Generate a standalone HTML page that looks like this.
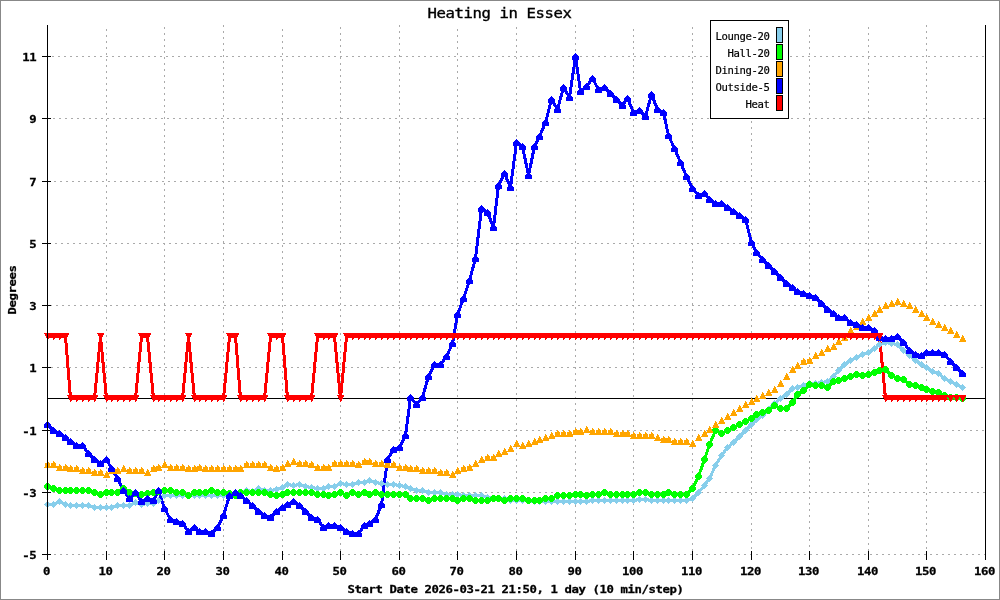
<!DOCTYPE html>
<html lang="en"><head><meta charset="utf-8"><title>Heating in Essex</title>
<style>
html,body{margin:0;padding:0;background:#fff;}
body{width:1000px;height:600px;overflow:hidden;position:relative;}
svg{position:absolute;left:0;top:0;display:block;}
.mb{font-family:"DejaVu Sans Mono","Liberation Mono",monospace;font-weight:bold;font-size:11.5px;letter-spacing:-0.38px;fill:#000;stroke:#000;stroke-width:0.3px;}
.ti{font-family:"DejaVu Sans Mono","Liberation Mono",monospace;font-weight:normal;font-size:14px;letter-spacing:-0.39px;fill:#000;stroke:#000;stroke-width:0.35px;}
.lg{font-family:"DejaVu Sans Mono","Liberation Mono",monospace;font-size:10.6px;letter-spacing:-0.38px;fill:#000;stroke:#000;stroke-width:0.2px;}
</style></head><body>
<svg width="1000" height="600" viewBox="0 0 1000 600">
<rect x="0" y="0" width="1000" height="600" fill="#fff"/>
<rect x="0.5" y="0.5" width="999" height="599" fill="none" stroke="#888888" stroke-width="1" shape-rendering="crispEdges"/>
<text class="ti" transform="translate(499.5,18.2) scale(1.12,0.95)" text-anchor="middle">Heating in Essex</text>
<g stroke="#aaaaaa" stroke-width="1" shape-rendering="crispEdges" fill="none">
<line x1="47" y1="554.5" x2="985" y2="554.5" stroke-dasharray="2 4" stroke-dashoffset="5"/>
<line x1="47" y1="492.5" x2="985" y2="492.5" stroke-dasharray="2 4" stroke-dashoffset="0"/>
<line x1="47" y1="430.5" x2="985" y2="430.5" stroke-dasharray="2 4" stroke-dashoffset="1"/>
<line x1="47" y1="367.5" x2="985" y2="367.5" stroke-dasharray="2 4" stroke-dashoffset="2"/>
<line x1="47" y1="305.5" x2="985" y2="305.5" stroke-dasharray="2 4" stroke-dashoffset="3"/>
<line x1="47" y1="243.5" x2="985" y2="243.5" stroke-dasharray="2 4" stroke-dashoffset="4"/>
<line x1="47" y1="181.5" x2="985" y2="181.5" stroke-dasharray="2 4" stroke-dashoffset="5"/>
<line x1="47" y1="118.5" x2="985" y2="118.5" stroke-dasharray="2 4" stroke-dashoffset="0"/>
<line x1="47" y1="56.5" x2="985" y2="56.5" stroke-dasharray="2 4" stroke-dashoffset="1"/>
<line x1="106.5" y1="25" x2="106.5" y2="555" stroke-dasharray="2 4" stroke-dashoffset="2"/>
<line x1="164.5" y1="25" x2="164.5" y2="555" stroke-dasharray="2 4" stroke-dashoffset="4"/>
<line x1="223.5" y1="25" x2="223.5" y2="555" stroke-dasharray="2 4" stroke-dashoffset="0"/>
<line x1="282.5" y1="25" x2="282.5" y2="555" stroke-dasharray="2 4" stroke-dashoffset="2"/>
<line x1="340.5" y1="25" x2="340.5" y2="555" stroke-dasharray="2 4" stroke-dashoffset="4"/>
<line x1="399.5" y1="25" x2="399.5" y2="555" stroke-dasharray="2 4" stroke-dashoffset="0"/>
<line x1="457.5" y1="25" x2="457.5" y2="555" stroke-dasharray="2 4" stroke-dashoffset="2"/>
<line x1="516.5" y1="25" x2="516.5" y2="555" stroke-dasharray="2 4" stroke-dashoffset="4"/>
<line x1="575.5" y1="25" x2="575.5" y2="555" stroke-dasharray="2 4" stroke-dashoffset="0"/>
<line x1="633.5" y1="25" x2="633.5" y2="555" stroke-dasharray="2 4" stroke-dashoffset="2"/>
<line x1="692.5" y1="25" x2="692.5" y2="555" stroke-dasharray="2 4" stroke-dashoffset="4"/>
<line x1="751.5" y1="25" x2="751.5" y2="555" stroke-dasharray="2 4" stroke-dashoffset="0"/>
<line x1="809.5" y1="25" x2="809.5" y2="555" stroke-dasharray="2 4" stroke-dashoffset="2"/>
<line x1="868.5" y1="25" x2="868.5" y2="555" stroke-dasharray="2 4" stroke-dashoffset="4"/>
<line x1="926.5" y1="25" x2="926.5" y2="555" stroke-dasharray="2 4" stroke-dashoffset="0"/>
</g>
<g stroke="#000" stroke-width="1" shape-rendering="crispEdges" fill="none">
<line x1="47" y1="398.5" x2="986" y2="398.5"/>
<line x1="42" y1="554.5" x2="51" y2="554.5"/>
<line x1="42" y1="492.5" x2="51" y2="492.5"/>
<line x1="42" y1="430.5" x2="51" y2="430.5"/>
<line x1="42" y1="367.5" x2="51" y2="367.5"/>
<line x1="42" y1="305.5" x2="51" y2="305.5"/>
<line x1="42" y1="243.5" x2="51" y2="243.5"/>
<line x1="42" y1="181.5" x2="51" y2="181.5"/>
<line x1="42" y1="118.5" x2="51" y2="118.5"/>
<line x1="42" y1="56.5" x2="51" y2="56.5"/>
<line x1="47.5" y1="551" x2="47.5" y2="560"/>
<line x1="106.5" y1="551" x2="106.5" y2="560"/>
<line x1="164.5" y1="551" x2="164.5" y2="560"/>
<line x1="223.5" y1="551" x2="223.5" y2="560"/>
<line x1="282.5" y1="551" x2="282.5" y2="560"/>
<line x1="340.5" y1="551" x2="340.5" y2="560"/>
<line x1="399.5" y1="551" x2="399.5" y2="560"/>
<line x1="457.5" y1="551" x2="457.5" y2="560"/>
<line x1="516.5" y1="551" x2="516.5" y2="560"/>
<line x1="575.5" y1="551" x2="575.5" y2="560"/>
<line x1="633.5" y1="551" x2="633.5" y2="560"/>
<line x1="692.5" y1="551" x2="692.5" y2="560"/>
<line x1="751.5" y1="551" x2="751.5" y2="560"/>
<line x1="809.5" y1="551" x2="809.5" y2="560"/>
<line x1="868.5" y1="551" x2="868.5" y2="560"/>
<line x1="926.5" y1="551" x2="926.5" y2="560"/>
<line x1="985.5" y1="551" x2="985.5" y2="560"/>
</g>
<g class="mb">
<text transform="translate(36.3,559.1) scale(1.07,0.9)" text-anchor="end">-5</text>
<text transform="translate(36.3,497.1) scale(1.07,0.9)" text-anchor="end">-3</text>
<text transform="translate(36.3,435.1) scale(1.07,0.9)" text-anchor="end">-1</text>
<text transform="translate(36.3,372.1) scale(1.07,0.9)" text-anchor="end">1</text>
<text transform="translate(36.3,310.1) scale(1.07,0.9)" text-anchor="end">3</text>
<text transform="translate(36.3,248.1) scale(1.07,0.9)" text-anchor="end">5</text>
<text transform="translate(36.3,186.1) scale(1.07,0.9)" text-anchor="end">7</text>
<text transform="translate(36.3,123.1) scale(1.07,0.9)" text-anchor="end">9</text>
<text transform="translate(36.3,61.1) scale(1.07,0.9)" text-anchor="end">11</text>
<text transform="translate(46.5,575.2) scale(1.07,0.9)" text-anchor="middle">0</text>
<text transform="translate(105.5,575.2) scale(1.07,0.9)" text-anchor="middle">10</text>
<text transform="translate(163.5,575.2) scale(1.07,0.9)" text-anchor="middle">20</text>
<text transform="translate(222.5,575.2) scale(1.07,0.9)" text-anchor="middle">30</text>
<text transform="translate(281.5,575.2) scale(1.07,0.9)" text-anchor="middle">40</text>
<text transform="translate(339.5,575.2) scale(1.07,0.9)" text-anchor="middle">50</text>
<text transform="translate(398.5,575.2) scale(1.07,0.9)" text-anchor="middle">60</text>
<text transform="translate(456.5,575.2) scale(1.07,0.9)" text-anchor="middle">70</text>
<text transform="translate(515.5,575.2) scale(1.07,0.9)" text-anchor="middle">80</text>
<text transform="translate(574.5,575.2) scale(1.07,0.9)" text-anchor="middle">90</text>
<text transform="translate(632.5,575.2) scale(1.07,0.9)" text-anchor="middle">100</text>
<text transform="translate(691.5,575.2) scale(1.07,0.9)" text-anchor="middle">110</text>
<text transform="translate(750.5,575.2) scale(1.07,0.9)" text-anchor="middle">120</text>
<text transform="translate(808.5,575.2) scale(1.07,0.9)" text-anchor="middle">130</text>
<text transform="translate(867.5,575.2) scale(1.07,0.9)" text-anchor="middle">140</text>
<text transform="translate(925.5,575.2) scale(1.07,0.9)" text-anchor="middle">150</text>
<text transform="translate(984.5,575.2) scale(1.07,0.9)" text-anchor="middle">160</text>
<text transform="translate(515.5,593.2) scale(1.07,0.9)" text-anchor="middle">Start Date 2026-03-21 21:50, 1 day (10 min/step)</text>
<text transform="translate(16.4,290) rotate(-90) scale(1.07,0.9)" text-anchor="middle">Degrees</text>
</g>
<g fill="none" stroke-width="3" stroke-linejoin="bevel" stroke-linecap="butt" shape-rendering="crispEdges">
<polyline stroke="#87ceeb" points="47.5,504.5 53.5,504.5 59.5,501.5 65.5,504.5 70.5,505.5 76.5,505.5 82.5,505.5 88.5,505.5 94.5,507.5 100.5,507.5 106.5,507.5 111.5,507.5 117.5,505.5 123.5,505.5 129.5,505.5 135.5,502.5 141.5,504.5 147.5,503.5 153.5,503.5 158.5,500.5 164.5,495.5 170.5,495.5 176.5,495.5 182.5,495.5 188.5,495.5 194.5,495.5 199.5,495.5 205.5,495.5 211.5,495.5 217.5,495.5 223.5,495.5 229.5,494.5 235.5,493.5 240.5,492.5 246.5,490.5 252.5,491.5 258.5,488.5 264.5,490.5 270.5,490.5 276.5,489.5 282.5,487.5 287.5,484.5 293.5,485.5 299.5,484.5 305.5,486.5 311.5,487.5 317.5,488.5 323.5,488.5 328.5,486.5 334.5,486.5 340.5,483.5 346.5,484.5 352.5,484.5 358.5,482.5 364.5,482.5 369.5,480.5 375.5,482.5 381.5,483.5 387.5,484.5 393.5,484.5 399.5,485.5 405.5,486.5 410.5,488.5 416.5,490.5 422.5,490.5 428.5,492.5 434.5,492.5 440.5,492.5 446.5,494.5 452.5,494.5 457.5,494.5 463.5,495.5 469.5,495.5 475.5,495.5 481.5,495.5 487.5,497.5 493.5,498.5 498.5,498.5 504.5,498.5 510.5,500.5 516.5,500.5 522.5,500.5 528.5,500.5 534.5,501.5 539.5,501.5 545.5,501.5 551.5,501.5 557.5,501.5 563.5,501.5 569.5,501.5 575.5,501.5 580.5,501.5 586.5,501.5 592.5,500.5 598.5,500.5 604.5,500.5 610.5,500.5 616.5,500.5 622.5,500.5 627.5,500.5 633.5,500.5 639.5,499.5 645.5,499.5 651.5,500.5 657.5,500.5 663.5,500.5 668.5,500.5 674.5,500.5 680.5,500.5 686.5,500.5 692.5,498.5 698.5,492.5 704.5,485.5 709.5,478.5 715.5,465.5 721.5,455.5 727.5,447.5 733.5,442.5 739.5,436.5 745.5,430.5 751.5,424.5 756.5,419.5 762.5,415.5 768.5,409.5 774.5,403.5 780.5,398.5 786.5,394.5 792.5,388.5 797.5,387.5 803.5,385.5 809.5,383.5 815.5,383.5 821.5,382.5 827.5,381.5 833.5,376.5 838.5,370.5 844.5,364.5 850.5,360.5 856.5,357.5 862.5,354.5 868.5,352.5 874.5,348.5 879.5,344.5 885.5,342.5 891.5,343.5 897.5,344.5 903.5,350.5 909.5,355.5 915.5,360.5 921.5,364.5 926.5,367.5 932.5,371.5 938.5,373.5 944.5,378.5 950.5,381.5 956.5,384.5 962.5,387.5"/>
<polyline stroke="#00ff00" points="47.5,486.5 53.5,488.5 59.5,490.5 65.5,490.5 70.5,490.5 76.5,490.5 82.5,490.5 88.5,490.5 94.5,492.5 100.5,494.5 106.5,492.5 111.5,492.5 117.5,492.5 123.5,488.5 129.5,492.5 135.5,493.5 141.5,494.5 147.5,493.5 153.5,492.5 158.5,491.5 164.5,490.5 170.5,490.5 176.5,492.5 182.5,492.5 188.5,495.5 194.5,492.5 199.5,492.5 205.5,492.5 211.5,490.5 217.5,492.5 223.5,492.5 229.5,493.5 235.5,495.5 240.5,492.5 246.5,492.5 252.5,492.5 258.5,492.5 264.5,492.5 270.5,494.5 276.5,495.5 282.5,494.5 287.5,492.5 293.5,492.5 299.5,492.5 305.5,492.5 311.5,492.5 317.5,494.5 323.5,494.5 328.5,495.5 334.5,494.5 340.5,492.5 346.5,495.5 352.5,492.5 358.5,494.5 364.5,492.5 369.5,494.5 375.5,492.5 381.5,494.5 387.5,494.5 393.5,494.5 399.5,494.5 405.5,494.5 410.5,498.5 416.5,498.5 422.5,498.5 428.5,500.5 434.5,498.5 440.5,498.5 446.5,498.5 452.5,498.5 457.5,500.5 463.5,498.5 469.5,498.5 475.5,500.5 481.5,500.5 487.5,500.5 493.5,498.5 498.5,498.5 504.5,500.5 510.5,498.5 516.5,498.5 522.5,498.5 528.5,500.5 534.5,500.5 539.5,500.5 545.5,498.5 551.5,498.5 557.5,495.5 563.5,495.5 569.5,495.5 575.5,494.5 580.5,494.5 586.5,495.5 592.5,494.5 598.5,494.5 604.5,492.5 610.5,494.5 616.5,494.5 622.5,494.5 627.5,494.5 633.5,494.5 639.5,492.5 645.5,492.5 651.5,494.5 657.5,494.5 663.5,494.5 668.5,492.5 674.5,494.5 680.5,494.5 686.5,494.5 692.5,488.5 698.5,476.5 704.5,459.5 709.5,444.5 715.5,430.5 721.5,433.5 727.5,430.5 733.5,427.5 739.5,424.5 745.5,421.5 751.5,418.5 756.5,414.5 762.5,412.5 768.5,410.5 774.5,405.5 780.5,408.5 786.5,408.5 792.5,402.5 797.5,394.5 803.5,390.5 809.5,384.5 815.5,385.5 821.5,385.5 827.5,387.5 833.5,381.5 838.5,380.5 844.5,378.5 850.5,376.5 856.5,374.5 862.5,375.5 868.5,374.5 874.5,372.5 879.5,370.5 885.5,369.5 891.5,375.5 897.5,378.5 903.5,379.5 909.5,384.5 915.5,385.5 921.5,387.5 926.5,389.5 932.5,391.5 938.5,392.5 944.5,395.5 950.5,397.5 956.5,397.5 962.5,398.5"/>
<polyline stroke="#0000ff" points="47.5,424.5 53.5,430.5 59.5,433.5 65.5,437.5 70.5,441.5 76.5,445.5 82.5,445.5 88.5,453.5 94.5,459.5 100.5,463.5 106.5,459.5 111.5,468.5 117.5,478.5 123.5,490.5 129.5,498.5 135.5,492.5 141.5,501.5 147.5,498.5 153.5,500.5 158.5,490.5 164.5,508.5 170.5,519.5 176.5,521.5 182.5,523.5 188.5,531.5 194.5,527.5 199.5,531.5 205.5,531.5 211.5,533.5 217.5,527.5 223.5,515.5 229.5,495.5 235.5,492.5 240.5,495.5 246.5,500.5 252.5,505.5 258.5,511.5 264.5,515.5 270.5,517.5 276.5,511.5 282.5,507.5 287.5,504.5 293.5,501.5 299.5,505.5 305.5,511.5 311.5,517.5 317.5,519.5 323.5,527.5 328.5,525.5 334.5,525.5 340.5,527.5 346.5,531.5 352.5,533.5 358.5,533.5 364.5,525.5 369.5,523.5 375.5,519.5 381.5,504.5 387.5,459.5 393.5,449.5 399.5,447.5 405.5,435.5 410.5,397.5 416.5,404.5 422.5,397.5 428.5,376.5 434.5,364.5 440.5,364.5 446.5,356.5 452.5,343.5 457.5,314.5 463.5,298.5 469.5,280.5 475.5,258.5 481.5,208.5 487.5,212.5 493.5,227.5 498.5,185.5 504.5,173.5 510.5,187.5 516.5,142.5 522.5,146.5 528.5,175.5 534.5,146.5 539.5,136.5 545.5,122.5 551.5,99.5 557.5,109.5 563.5,87.5 569.5,97.5 575.5,56.5 580.5,91.5 586.5,86.5 592.5,78.5 598.5,89.5 604.5,87.5 610.5,93.5 616.5,99.5 622.5,105.5 627.5,98.5 633.5,112.5 639.5,110.5 645.5,116.5 651.5,94.5 657.5,109.5 663.5,112.5 668.5,135.5 674.5,148.5 680.5,162.5 686.5,176.5 692.5,188.5 698.5,195.5 704.5,193.5 709.5,199.5 715.5,203.5 721.5,203.5 727.5,207.5 733.5,211.5 739.5,215.5 745.5,219.5 751.5,242.5 756.5,252.5 762.5,259.5 768.5,265.5 774.5,271.5 780.5,277.5 786.5,283.5 792.5,287.5 797.5,291.5 803.5,293.5 809.5,295.5 815.5,297.5 821.5,303.5 827.5,309.5 833.5,313.5 838.5,317.5 844.5,317.5 850.5,322.5 856.5,324.5 862.5,327.5 868.5,327.5 874.5,330.5 879.5,337.5 885.5,338.5 891.5,338.5 897.5,336.5 903.5,342.5 909.5,350.5 915.5,354.5 921.5,355.5 926.5,352.5 932.5,352.5 938.5,352.5 944.5,354.5 950.5,361.5 956.5,367.5 962.5,373.5"/>
<polyline stroke="#ff0000" points="47.5,336.5 53.5,336.5 59.5,336.5 65.5,336.5 70.5,398.5 76.5,398.5 82.5,398.5 88.5,398.5 94.5,398.5 100.5,336.5 106.5,398.5 111.5,398.5 117.5,398.5 123.5,398.5 129.5,398.5 135.5,398.5 141.5,336.5 147.5,336.5 153.5,398.5 158.5,398.5 164.5,398.5 170.5,398.5 176.5,398.5 182.5,398.5 188.5,336.5 194.5,398.5 199.5,398.5 205.5,398.5 211.5,398.5 217.5,398.5 223.5,398.5 229.5,336.5 235.5,336.5 240.5,398.5 246.5,398.5 252.5,398.5 258.5,398.5 264.5,398.5 270.5,336.5 276.5,336.5 282.5,336.5 287.5,398.5 293.5,398.5 299.5,398.5 305.5,398.5 311.5,398.5 317.5,336.5 323.5,336.5 328.5,336.5 334.5,336.5 340.5,398.5 346.5,336.5 352.5,336.5 358.5,336.5 364.5,336.5 369.5,336.5 375.5,336.5 381.5,336.5 387.5,336.5 393.5,336.5 399.5,336.5 405.5,336.5 410.5,336.5 416.5,336.5 422.5,336.5 428.5,336.5 434.5,336.5 440.5,336.5 446.5,336.5 452.5,336.5 457.5,336.5 463.5,336.5 469.5,336.5 475.5,336.5 481.5,336.5 487.5,336.5 493.5,336.5 498.5,336.5 504.5,336.5 510.5,336.5 516.5,336.5 522.5,336.5 528.5,336.5 534.5,336.5 539.5,336.5 545.5,336.5 551.5,336.5 557.5,336.5 563.5,336.5 569.5,336.5 575.5,336.5 580.5,336.5 586.5,336.5 592.5,336.5 598.5,336.5 604.5,336.5 610.5,336.5 616.5,336.5 622.5,336.5 627.5,336.5 633.5,336.5 639.5,336.5 645.5,336.5 651.5,336.5 657.5,336.5 663.5,336.5 668.5,336.5 674.5,336.5 680.5,336.5 686.5,336.5 692.5,336.5 698.5,336.5 704.5,336.5 709.5,336.5 715.5,336.5 721.5,336.5 727.5,336.5 733.5,336.5 739.5,336.5 745.5,336.5 751.5,336.5 756.5,336.5 762.5,336.5 768.5,336.5 774.5,336.5 780.5,336.5 786.5,336.5 792.5,336.5 797.5,336.5 803.5,336.5 809.5,336.5 815.5,336.5 821.5,336.5 827.5,336.5 833.5,336.5 838.5,336.5 844.5,336.5 850.5,336.5 856.5,336.5 862.5,336.5 868.5,336.5 874.5,336.5 879.5,336.5 885.5,398.5 891.5,398.5 897.5,398.5 903.5,398.5 909.5,398.5 915.5,398.5 921.5,398.5 926.5,398.5 932.5,398.5 938.5,398.5 944.5,398.5 950.5,398.5 956.5,398.5 962.5,398.5"/>
</g>
<g stroke="none" shape-rendering="crispEdges">
<path fill="#87ceeb" d="M44 504.5L47.5 501L51 504.5L47.5 508zM50 504.5L53.5 501L57 504.5L53.5 508zM56 501.5L59.5 498L63 501.5L59.5 505zM62 504.5L65.5 501L69 504.5L65.5 508zM67 505.5L70.5 502L74 505.5L70.5 509zM73 505.5L76.5 502L80 505.5L76.5 509zM79 505.5L82.5 502L86 505.5L82.5 509zM85 505.5L88.5 502L92 505.5L88.5 509zM91 507.5L94.5 504L98 507.5L94.5 511zM97 507.5L100.5 504L104 507.5L100.5 511zM103 507.5L106.5 504L110 507.5L106.5 511zM108 507.5L111.5 504L115 507.5L111.5 511zM114 505.5L117.5 502L121 505.5L117.5 509zM120 505.5L123.5 502L127 505.5L123.5 509zM126 505.5L129.5 502L133 505.5L129.5 509zM132 502.5L135.5 499L139 502.5L135.5 506zM138 504.5L141.5 501L145 504.5L141.5 508zM144 503.5L147.5 500L151 503.5L147.5 507zM150 503.5L153.5 500L157 503.5L153.5 507zM155 500.5L158.5 497L162 500.5L158.5 504zM161 495.5L164.5 492L168 495.5L164.5 499zM167 495.5L170.5 492L174 495.5L170.5 499zM173 495.5L176.5 492L180 495.5L176.5 499zM179 495.5L182.5 492L186 495.5L182.5 499zM185 495.5L188.5 492L192 495.5L188.5 499zM191 495.5L194.5 492L198 495.5L194.5 499zM196 495.5L199.5 492L203 495.5L199.5 499zM202 495.5L205.5 492L209 495.5L205.5 499zM208 495.5L211.5 492L215 495.5L211.5 499zM214 495.5L217.5 492L221 495.5L217.5 499zM220 495.5L223.5 492L227 495.5L223.5 499zM226 494.5L229.5 491L233 494.5L229.5 498zM232 493.5L235.5 490L239 493.5L235.5 497zM237 492.5L240.5 489L244 492.5L240.5 496zM243 490.5L246.5 487L250 490.5L246.5 494zM249 491.5L252.5 488L256 491.5L252.5 495zM255 488.5L258.5 485L262 488.5L258.5 492zM261 490.5L264.5 487L268 490.5L264.5 494zM267 490.5L270.5 487L274 490.5L270.5 494zM273 489.5L276.5 486L280 489.5L276.5 493zM279 487.5L282.5 484L286 487.5L282.5 491zM284 484.5L287.5 481L291 484.5L287.5 488zM290 485.5L293.5 482L297 485.5L293.5 489zM296 484.5L299.5 481L303 484.5L299.5 488zM302 486.5L305.5 483L309 486.5L305.5 490zM308 487.5L311.5 484L315 487.5L311.5 491zM314 488.5L317.5 485L321 488.5L317.5 492zM320 488.5L323.5 485L327 488.5L323.5 492zM325 486.5L328.5 483L332 486.5L328.5 490zM331 486.5L334.5 483L338 486.5L334.5 490zM337 483.5L340.5 480L344 483.5L340.5 487zM343 484.5L346.5 481L350 484.5L346.5 488zM349 484.5L352.5 481L356 484.5L352.5 488zM355 482.5L358.5 479L362 482.5L358.5 486zM361 482.5L364.5 479L368 482.5L364.5 486zM366 480.5L369.5 477L373 480.5L369.5 484zM372 482.5L375.5 479L379 482.5L375.5 486zM378 483.5L381.5 480L385 483.5L381.5 487zM384 484.5L387.5 481L391 484.5L387.5 488zM390 484.5L393.5 481L397 484.5L393.5 488zM396 485.5L399.5 482L403 485.5L399.5 489zM402 486.5L405.5 483L409 486.5L405.5 490zM407 488.5L410.5 485L414 488.5L410.5 492zM413 490.5L416.5 487L420 490.5L416.5 494zM419 490.5L422.5 487L426 490.5L422.5 494zM425 492.5L428.5 489L432 492.5L428.5 496zM431 492.5L434.5 489L438 492.5L434.5 496zM437 492.5L440.5 489L444 492.5L440.5 496zM443 494.5L446.5 491L450 494.5L446.5 498zM449 494.5L452.5 491L456 494.5L452.5 498zM454 494.5L457.5 491L461 494.5L457.5 498zM460 495.5L463.5 492L467 495.5L463.5 499zM466 495.5L469.5 492L473 495.5L469.5 499zM472 495.5L475.5 492L479 495.5L475.5 499zM478 495.5L481.5 492L485 495.5L481.5 499zM484 497.5L487.5 494L491 497.5L487.5 501zM490 498.5L493.5 495L497 498.5L493.5 502zM495 498.5L498.5 495L502 498.5L498.5 502zM501 498.5L504.5 495L508 498.5L504.5 502zM507 500.5L510.5 497L514 500.5L510.5 504zM513 500.5L516.5 497L520 500.5L516.5 504zM519 500.5L522.5 497L526 500.5L522.5 504zM525 500.5L528.5 497L532 500.5L528.5 504zM531 501.5L534.5 498L538 501.5L534.5 505zM536 501.5L539.5 498L543 501.5L539.5 505zM542 501.5L545.5 498L549 501.5L545.5 505zM548 501.5L551.5 498L555 501.5L551.5 505zM554 501.5L557.5 498L561 501.5L557.5 505zM560 501.5L563.5 498L567 501.5L563.5 505zM566 501.5L569.5 498L573 501.5L569.5 505zM572 501.5L575.5 498L579 501.5L575.5 505zM577 501.5L580.5 498L584 501.5L580.5 505zM583 501.5L586.5 498L590 501.5L586.5 505zM589 500.5L592.5 497L596 500.5L592.5 504zM595 500.5L598.5 497L602 500.5L598.5 504zM601 500.5L604.5 497L608 500.5L604.5 504zM607 500.5L610.5 497L614 500.5L610.5 504zM613 500.5L616.5 497L620 500.5L616.5 504zM619 500.5L622.5 497L626 500.5L622.5 504zM624 500.5L627.5 497L631 500.5L627.5 504zM630 500.5L633.5 497L637 500.5L633.5 504zM636 499.5L639.5 496L643 499.5L639.5 503zM642 499.5L645.5 496L649 499.5L645.5 503zM648 500.5L651.5 497L655 500.5L651.5 504zM654 500.5L657.5 497L661 500.5L657.5 504zM660 500.5L663.5 497L667 500.5L663.5 504zM665 500.5L668.5 497L672 500.5L668.5 504zM671 500.5L674.5 497L678 500.5L674.5 504zM677 500.5L680.5 497L684 500.5L680.5 504zM683 500.5L686.5 497L690 500.5L686.5 504zM689 498.5L692.5 495L696 498.5L692.5 502zM695 492.5L698.5 489L702 492.5L698.5 496zM701 485.5L704.5 482L708 485.5L704.5 489zM706 478.5L709.5 475L713 478.5L709.5 482zM712 465.5L715.5 462L719 465.5L715.5 469zM718 455.5L721.5 452L725 455.5L721.5 459zM724 447.5L727.5 444L731 447.5L727.5 451zM730 442.5L733.5 439L737 442.5L733.5 446zM736 436.5L739.5 433L743 436.5L739.5 440zM742 430.5L745.5 427L749 430.5L745.5 434zM748 424.5L751.5 421L755 424.5L751.5 428zM753 419.5L756.5 416L760 419.5L756.5 423zM759 415.5L762.5 412L766 415.5L762.5 419zM765 409.5L768.5 406L772 409.5L768.5 413zM771 403.5L774.5 400L778 403.5L774.5 407zM777 398.5L780.5 395L784 398.5L780.5 402zM783 394.5L786.5 391L790 394.5L786.5 398zM789 388.5L792.5 385L796 388.5L792.5 392zM794 387.5L797.5 384L801 387.5L797.5 391zM800 385.5L803.5 382L807 385.5L803.5 389zM806 383.5L809.5 380L813 383.5L809.5 387zM812 383.5L815.5 380L819 383.5L815.5 387zM818 382.5L821.5 379L825 382.5L821.5 386zM824 381.5L827.5 378L831 381.5L827.5 385zM830 376.5L833.5 373L837 376.5L833.5 380zM835 370.5L838.5 367L842 370.5L838.5 374zM841 364.5L844.5 361L848 364.5L844.5 368zM847 360.5L850.5 357L854 360.5L850.5 364zM853 357.5L856.5 354L860 357.5L856.5 361zM859 354.5L862.5 351L866 354.5L862.5 358zM865 352.5L868.5 349L872 352.5L868.5 356zM871 348.5L874.5 345L878 348.5L874.5 352zM876 344.5L879.5 341L883 344.5L879.5 348zM882 342.5L885.5 339L889 342.5L885.5 346zM888 343.5L891.5 340L895 343.5L891.5 347zM894 344.5L897.5 341L901 344.5L897.5 348zM900 350.5L903.5 347L907 350.5L903.5 354zM906 355.5L909.5 352L913 355.5L909.5 359zM912 360.5L915.5 357L919 360.5L915.5 364zM918 364.5L921.5 361L925 364.5L921.5 368zM923 367.5L926.5 364L930 367.5L926.5 371zM929 371.5L932.5 368L936 371.5L932.5 375zM935 373.5L938.5 370L942 373.5L938.5 377zM941 378.5L944.5 375L948 378.5L944.5 382zM947 381.5L950.5 378L954 381.5L950.5 385zM953 384.5L956.5 381L960 384.5L956.5 388zM959 387.5L962.5 384L966 387.5L962.5 391z"/>
<g fill="#00ff00">
<path d="M46 483h3v1h1v1h1v3h-1v1h-1v1h-3v-1h-1v-1h-1v-3h1v-1h1zM52 485h3v1h1v1h1v3h-1v1h-1v1h-3v-1h-1v-1h-1v-3h1v-1h1zM58 487h3v1h1v1h1v3h-1v1h-1v1h-3v-1h-1v-1h-1v-3h1v-1h1zM64 487h3v1h1v1h1v3h-1v1h-1v1h-3v-1h-1v-1h-1v-3h1v-1h1zM69 487h3v1h1v1h1v3h-1v1h-1v1h-3v-1h-1v-1h-1v-3h1v-1h1zM75 487h3v1h1v1h1v3h-1v1h-1v1h-3v-1h-1v-1h-1v-3h1v-1h1zM81 487h3v1h1v1h1v3h-1v1h-1v1h-3v-1h-1v-1h-1v-3h1v-1h1zM87 487h3v1h1v1h1v3h-1v1h-1v1h-3v-1h-1v-1h-1v-3h1v-1h1zM93 489h3v1h1v1h1v3h-1v1h-1v1h-3v-1h-1v-1h-1v-3h1v-1h1zM99 491h3v1h1v1h1v3h-1v1h-1v1h-3v-1h-1v-1h-1v-3h1v-1h1zM105 489h3v1h1v1h1v3h-1v1h-1v1h-3v-1h-1v-1h-1v-3h1v-1h1zM110 489h3v1h1v1h1v3h-1v1h-1v1h-3v-1h-1v-1h-1v-3h1v-1h1zM116 489h3v1h1v1h1v3h-1v1h-1v1h-3v-1h-1v-1h-1v-3h1v-1h1zM122 485h3v1h1v1h1v3h-1v1h-1v1h-3v-1h-1v-1h-1v-3h1v-1h1zM128 489h3v1h1v1h1v3h-1v1h-1v1h-3v-1h-1v-1h-1v-3h1v-1h1zM134 490h3v1h1v1h1v3h-1v1h-1v1h-3v-1h-1v-1h-1v-3h1v-1h1zM140 491h3v1h1v1h1v3h-1v1h-1v1h-3v-1h-1v-1h-1v-3h1v-1h1zM146 490h3v1h1v1h1v3h-1v1h-1v1h-3v-1h-1v-1h-1v-3h1v-1h1zM152 489h3v1h1v1h1v3h-1v1h-1v1h-3v-1h-1v-1h-1v-3h1v-1h1zM157 488h3v1h1v1h1v3h-1v1h-1v1h-3v-1h-1v-1h-1v-3h1v-1h1zM163 487h3v1h1v1h1v3h-1v1h-1v1h-3v-1h-1v-1h-1v-3h1v-1h1zM169 487h3v1h1v1h1v3h-1v1h-1v1h-3v-1h-1v-1h-1v-3h1v-1h1zM175 489h3v1h1v1h1v3h-1v1h-1v1h-3v-1h-1v-1h-1v-3h1v-1h1zM181 489h3v1h1v1h1v3h-1v1h-1v1h-3v-1h-1v-1h-1v-3h1v-1h1zM187 492h3v1h1v1h1v3h-1v1h-1v1h-3v-1h-1v-1h-1v-3h1v-1h1zM193 489h3v1h1v1h1v3h-1v1h-1v1h-3v-1h-1v-1h-1v-3h1v-1h1zM198 489h3v1h1v1h1v3h-1v1h-1v1h-3v-1h-1v-1h-1v-3h1v-1h1zM204 489h3v1h1v1h1v3h-1v1h-1v1h-3v-1h-1v-1h-1v-3h1v-1h1zM210 487h3v1h1v1h1v3h-1v1h-1v1h-3v-1h-1v-1h-1v-3h1v-1h1zM216 489h3v1h1v1h1v3h-1v1h-1v1h-3v-1h-1v-1h-1v-3h1v-1h1zM222 489h3v1h1v1h1v3h-1v1h-1v1h-3v-1h-1v-1h-1v-3h1v-1h1zM228 490h3v1h1v1h1v3h-1v1h-1v1h-3v-1h-1v-1h-1v-3h1v-1h1zM234 492h3v1h1v1h1v3h-1v1h-1v1h-3v-1h-1v-1h-1v-3h1v-1h1zM239 489h3v1h1v1h1v3h-1v1h-1v1h-3v-1h-1v-1h-1v-3h1v-1h1zM245 489h3v1h1v1h1v3h-1v1h-1v1h-3v-1h-1v-1h-1v-3h1v-1h1zM251 489h3v1h1v1h1v3h-1v1h-1v1h-3v-1h-1v-1h-1v-3h1v-1h1zM257 489h3v1h1v1h1v3h-1v1h-1v1h-3v-1h-1v-1h-1v-3h1v-1h1zM263 489h3v1h1v1h1v3h-1v1h-1v1h-3v-1h-1v-1h-1v-3h1v-1h1zM269 491h3v1h1v1h1v3h-1v1h-1v1h-3v-1h-1v-1h-1v-3h1v-1h1zM275 492h3v1h1v1h1v3h-1v1h-1v1h-3v-1h-1v-1h-1v-3h1v-1h1zM281 491h3v1h1v1h1v3h-1v1h-1v1h-3v-1h-1v-1h-1v-3h1v-1h1zM286 489h3v1h1v1h1v3h-1v1h-1v1h-3v-1h-1v-1h-1v-3h1v-1h1zM292 489h3v1h1v1h1v3h-1v1h-1v1h-3v-1h-1v-1h-1v-3h1v-1h1zM298 489h3v1h1v1h1v3h-1v1h-1v1h-3v-1h-1v-1h-1v-3h1v-1h1zM304 489h3v1h1v1h1v3h-1v1h-1v1h-3v-1h-1v-1h-1v-3h1v-1h1zM310 489h3v1h1v1h1v3h-1v1h-1v1h-3v-1h-1v-1h-1v-3h1v-1h1zM316 491h3v1h1v1h1v3h-1v1h-1v1h-3v-1h-1v-1h-1v-3h1v-1h1zM322 491h3v1h1v1h1v3h-1v1h-1v1h-3v-1h-1v-1h-1v-3h1v-1h1zM327 492h3v1h1v1h1v3h-1v1h-1v1h-3v-1h-1v-1h-1v-3h1v-1h1zM333 491h3v1h1v1h1v3h-1v1h-1v1h-3v-1h-1v-1h-1v-3h1v-1h1zM339 489h3v1h1v1h1v3h-1v1h-1v1h-3v-1h-1v-1h-1v-3h1v-1h1zM345 492h3v1h1v1h1v3h-1v1h-1v1h-3v-1h-1v-1h-1v-3h1v-1h1zM351 489h3v1h1v1h1v3h-1v1h-1v1h-3v-1h-1v-1h-1v-3h1v-1h1zM357 491h3v1h1v1h1v3h-1v1h-1v1h-3v-1h-1v-1h-1v-3h1v-1h1zM363 489h3v1h1v1h1v3h-1v1h-1v1h-3v-1h-1v-1h-1v-3h1v-1h1zM368 491h3v1h1v1h1v3h-1v1h-1v1h-3v-1h-1v-1h-1v-3h1v-1h1zM374 489h3v1h1v1h1v3h-1v1h-1v1h-3v-1h-1v-1h-1v-3h1v-1h1zM380 491h3v1h1v1h1v3h-1v1h-1v1h-3v-1h-1v-1h-1v-3h1v-1h1zM386 491h3v1h1v1h1v3h-1v1h-1v1h-3v-1h-1v-1h-1v-3h1v-1h1zM392 491h3v1h1v1h1v3h-1v1h-1v1h-3v-1h-1v-1h-1v-3h1v-1h1zM398 491h3v1h1v1h1v3h-1v1h-1v1h-3v-1h-1v-1h-1v-3h1v-1h1zM404 491h3v1h1v1h1v3h-1v1h-1v1h-3v-1h-1v-1h-1v-3h1v-1h1zM409 495h3v1h1v1h1v3h-1v1h-1v1h-3v-1h-1v-1h-1v-3h1v-1h1zM415 495h3v1h1v1h1v3h-1v1h-1v1h-3v-1h-1v-1h-1v-3h1v-1h1zM421 495h3v1h1v1h1v3h-1v1h-1v1h-3v-1h-1v-1h-1v-3h1v-1h1zM427 497h3v1h1v1h1v3h-1v1h-1v1h-3v-1h-1v-1h-1v-3h1v-1h1zM433 495h3v1h1v1h1v3h-1v1h-1v1h-3v-1h-1v-1h-1v-3h1v-1h1zM439 495h3v1h1v1h1v3h-1v1h-1v1h-3v-1h-1v-1h-1v-3h1v-1h1zM445 495h3v1h1v1h1v3h-1v1h-1v1h-3v-1h-1v-1h-1v-3h1v-1h1zM451 495h3v1h1v1h1v3h-1v1h-1v1h-3v-1h-1v-1h-1v-3h1v-1h1zM456 497h3v1h1v1h1v3h-1v1h-1v1h-3v-1h-1v-1h-1v-3h1v-1h1zM462 495h3v1h1v1h1v3h-1v1h-1v1h-3v-1h-1v-1h-1v-3h1v-1h1zM468 495h3v1h1v1h1v3h-1v1h-1v1h-3v-1h-1v-1h-1v-3h1v-1h1zM474 497h3v1h1v1h1v3h-1v1h-1v1h-3v-1h-1v-1h-1v-3h1v-1h1zM480 497h3v1h1v1h1v3h-1v1h-1v1h-3v-1h-1v-1h-1v-3h1v-1h1zM486 497h3v1h1v1h1v3h-1v1h-1v1h-3v-1h-1v-1h-1v-3h1v-1h1zM492 495h3v1h1v1h1v3h-1v1h-1v1h-3v-1h-1v-1h-1v-3h1v-1h1zM497 495h3v1h1v1h1v3h-1v1h-1v1h-3v-1h-1v-1h-1v-3h1v-1h1zM503 497h3v1h1v1h1v3h-1v1h-1v1h-3v-1h-1v-1h-1v-3h1v-1h1zM509 495h3v1h1v1h1v3h-1v1h-1v1h-3v-1h-1v-1h-1v-3h1v-1h1zM515 495h3v1h1v1h1v3h-1v1h-1v1h-3v-1h-1v-1h-1v-3h1v-1h1zM521 495h3v1h1v1h1v3h-1v1h-1v1h-3v-1h-1v-1h-1v-3h1v-1h1zM527 497h3v1h1v1h1v3h-1v1h-1v1h-3v-1h-1v-1h-1v-3h1v-1h1zM533 497h3v1h1v1h1v3h-1v1h-1v1h-3v-1h-1v-1h-1v-3h1v-1h1zM538 497h3v1h1v1h1v3h-1v1h-1v1h-3v-1h-1v-1h-1v-3h1v-1h1zM544 495h3v1h1v1h1v3h-1v1h-1v1h-3v-1h-1v-1h-1v-3h1v-1h1zM550 495h3v1h1v1h1v3h-1v1h-1v1h-3v-1h-1v-1h-1v-3h1v-1h1zM556 492h3v1h1v1h1v3h-1v1h-1v1h-3v-1h-1v-1h-1v-3h1v-1h1zM562 492h3v1h1v1h1v3h-1v1h-1v1h-3v-1h-1v-1h-1v-3h1v-1h1zM568 492h3v1h1v1h1v3h-1v1h-1v1h-3v-1h-1v-1h-1v-3h1v-1h1zM574 491h3v1h1v1h1v3h-1v1h-1v1h-3v-1h-1v-1h-1v-3h1v-1h1zM579 491h3v1h1v1h1v3h-1v1h-1v1h-3v-1h-1v-1h-1v-3h1v-1h1zM585 492h3v1h1v1h1v3h-1v1h-1v1h-3v-1h-1v-1h-1v-3h1v-1h1zM591 491h3v1h1v1h1v3h-1v1h-1v1h-3v-1h-1v-1h-1v-3h1v-1h1zM597 491h3v1h1v1h1v3h-1v1h-1v1h-3v-1h-1v-1h-1v-3h1v-1h1zM603 489h3v1h1v1h1v3h-1v1h-1v1h-3v-1h-1v-1h-1v-3h1v-1h1zM609 491h3v1h1v1h1v3h-1v1h-1v1h-3v-1h-1v-1h-1v-3h1v-1h1zM615 491h3v1h1v1h1v3h-1v1h-1v1h-3v-1h-1v-1h-1v-3h1v-1h1zM621 491h3v1h1v1h1v3h-1v1h-1v1h-3v-1h-1v-1h-1v-3h1v-1h1zM626 491h3v1h1v1h1v3h-1v1h-1v1h-3v-1h-1v-1h-1v-3h1v-1h1zM632 491h3v1h1v1h1v3h-1v1h-1v1h-3v-1h-1v-1h-1v-3h1v-1h1zM638 489h3v1h1v1h1v3h-1v1h-1v1h-3v-1h-1v-1h-1v-3h1v-1h1zM644 489h3v1h1v1h1v3h-1v1h-1v1h-3v-1h-1v-1h-1v-3h1v-1h1zM650 491h3v1h1v1h1v3h-1v1h-1v1h-3v-1h-1v-1h-1v-3h1v-1h1zM656 491h3v1h1v1h1v3h-1v1h-1v1h-3v-1h-1v-1h-1v-3h1v-1h1zM662 491h3v1h1v1h1v3h-1v1h-1v1h-3v-1h-1v-1h-1v-3h1v-1h1zM667 489h3v1h1v1h1v3h-1v1h-1v1h-3v-1h-1v-1h-1v-3h1v-1h1zM673 491h3v1h1v1h1v3h-1v1h-1v1h-3v-1h-1v-1h-1v-3h1v-1h1zM679 491h3v1h1v1h1v3h-1v1h-1v1h-3v-1h-1v-1h-1v-3h1v-1h1zM685 491h3v1h1v1h1v3h-1v1h-1v1h-3v-1h-1v-1h-1v-3h1v-1h1zM691 485h3v1h1v1h1v3h-1v1h-1v1h-3v-1h-1v-1h-1v-3h1v-1h1zM697 473h3v1h1v1h1v3h-1v1h-1v1h-3v-1h-1v-1h-1v-3h1v-1h1zM703 456h3v1h1v1h1v3h-1v1h-1v1h-3v-1h-1v-1h-1v-3h1v-1h1zM708 441h3v1h1v1h1v3h-1v1h-1v1h-3v-1h-1v-1h-1v-3h1v-1h1zM714 427h3v1h1v1h1v3h-1v1h-1v1h-3v-1h-1v-1h-1v-3h1v-1h1zM720 430h3v1h1v1h1v3h-1v1h-1v1h-3v-1h-1v-1h-1v-3h1v-1h1zM726 427h3v1h1v1h1v3h-1v1h-1v1h-3v-1h-1v-1h-1v-3h1v-1h1zM732 424h3v1h1v1h1v3h-1v1h-1v1h-3v-1h-1v-1h-1v-3h1v-1h1zM738 421h3v1h1v1h1v3h-1v1h-1v1h-3v-1h-1v-1h-1v-3h1v-1h1zM744 418h3v1h1v1h1v3h-1v1h-1v1h-3v-1h-1v-1h-1v-3h1v-1h1zM750 415h3v1h1v1h1v3h-1v1h-1v1h-3v-1h-1v-1h-1v-3h1v-1h1zM755 411h3v1h1v1h1v3h-1v1h-1v1h-3v-1h-1v-1h-1v-3h1v-1h1zM761 409h3v1h1v1h1v3h-1v1h-1v1h-3v-1h-1v-1h-1v-3h1v-1h1zM767 407h3v1h1v1h1v3h-1v1h-1v1h-3v-1h-1v-1h-1v-3h1v-1h1zM773 402h3v1h1v1h1v3h-1v1h-1v1h-3v-1h-1v-1h-1v-3h1v-1h1zM779 405h3v1h1v1h1v3h-1v1h-1v1h-3v-1h-1v-1h-1v-3h1v-1h1zM785 405h3v1h1v1h1v3h-1v1h-1v1h-3v-1h-1v-1h-1v-3h1v-1h1zM791 399h3v1h1v1h1v3h-1v1h-1v1h-3v-1h-1v-1h-1v-3h1v-1h1zM796 391h3v1h1v1h1v3h-1v1h-1v1h-3v-1h-1v-1h-1v-3h1v-1h1zM802 387h3v1h1v1h1v3h-1v1h-1v1h-3v-1h-1v-1h-1v-3h1v-1h1zM808 381h3v1h1v1h1v3h-1v1h-1v1h-3v-1h-1v-1h-1v-3h1v-1h1zM814 382h3v1h1v1h1v3h-1v1h-1v1h-3v-1h-1v-1h-1v-3h1v-1h1zM820 382h3v1h1v1h1v3h-1v1h-1v1h-3v-1h-1v-1h-1v-3h1v-1h1zM826 384h3v1h1v1h1v3h-1v1h-1v1h-3v-1h-1v-1h-1v-3h1v-1h1zM832 378h3v1h1v1h1v3h-1v1h-1v1h-3v-1h-1v-1h-1v-3h1v-1h1zM837 377h3v1h1v1h1v3h-1v1h-1v1h-3v-1h-1v-1h-1v-3h1v-1h1zM843 375h3v1h1v1h1v3h-1v1h-1v1h-3v-1h-1v-1h-1v-3h1v-1h1zM849 373h3v1h1v1h1v3h-1v1h-1v1h-3v-1h-1v-1h-1v-3h1v-1h1zM855 371h3v1h1v1h1v3h-1v1h-1v1h-3v-1h-1v-1h-1v-3h1v-1h1zM861 372h3v1h1v1h1v3h-1v1h-1v1h-3v-1h-1v-1h-1v-3h1v-1h1zM867 371h3v1h1v1h1v3h-1v1h-1v1h-3v-1h-1v-1h-1v-3h1v-1h1zM873 369h3v1h1v1h1v3h-1v1h-1v1h-3v-1h-1v-1h-1v-3h1v-1h1zM878 367h3v1h1v1h1v3h-1v1h-1v1h-3v-1h-1v-1h-1v-3h1v-1h1zM884 366h3v1h1v1h1v3h-1v1h-1v1h-3v-1h-1v-1h-1v-3h1v-1h1zM890 372h3v1h1v1h1v3h-1v1h-1v1h-3v-1h-1v-1h-1v-3h1v-1h1zM896 375h3v1h1v1h1v3h-1v1h-1v1h-3v-1h-1v-1h-1v-3h1v-1h1zM902 376h3v1h1v1h1v3h-1v1h-1v1h-3v-1h-1v-1h-1v-3h1v-1h1zM908 381h3v1h1v1h1v3h-1v1h-1v1h-3v-1h-1v-1h-1v-3h1v-1h1zM914 382h3v1h1v1h1v3h-1v1h-1v1h-3v-1h-1v-1h-1v-3h1v-1h1zM920 384h3v1h1v1h1v3h-1v1h-1v1h-3v-1h-1v-1h-1v-3h1v-1h1zM925 386h3v1h1v1h1v3h-1v1h-1v1h-3v-1h-1v-1h-1v-3h1v-1h1zM931 388h3v1h1v1h1v3h-1v1h-1v1h-3v-1h-1v-1h-1v-3h1v-1h1zM937 389h3v1h1v1h1v3h-1v1h-1v1h-3v-1h-1v-1h-1v-3h1v-1h1zM943 392h3v1h1v1h1v3h-1v1h-1v1h-3v-1h-1v-1h-1v-3h1v-1h1zM949 394h3v1h1v1h1v3h-1v1h-1v1h-3v-1h-1v-1h-1v-3h1v-1h1zM955 394h3v1h1v1h1v3h-1v1h-1v1h-3v-1h-1v-1h-1v-3h1v-1h1zM961 395h3v1h1v1h1v3h-1v1h-1v1h-3v-1h-1v-1h-1v-3h1v-1h1z"/>
</g>
<path fill="#ffa500" d="M44 468L51.5 468L47.75 460.5zM45.2 463v3h4.6v-3zM50 468L57.5 468L53.75 460.5zM51.2 463v3h4.6v-3zM56 471L63.5 471L59.75 463.5zM57.2 466v3h4.6v-3zM62 471L69.5 471L65.75 463.5zM63.2 466v3h4.6v-3zM67 472L74.5 472L70.75 464.5zM68.2 467v3h4.6v-3zM73 472L80.5 472L76.75 464.5zM74.2 467v3h4.6v-3zM79 474L86.5 474L82.75 466.5zM80.2 469v3h4.6v-3zM85 474L92.5 474L88.75 466.5zM86.2 469v3h4.6v-3zM91 476L98.5 476L94.75 468.5zM92.2 471v3h4.6v-3zM97 476L104.5 476L100.75 468.5zM98.2 471v3h4.6v-3zM103 478L110.5 478L106.75 470.5zM108 474L115.5 474L111.75 466.5zM109.2 469v3h4.6v-3zM114 474L121.5 474L117.75 466.5zM115.2 469v3h4.6v-3zM120 472L127.5 472L123.75 464.5zM126 474L133.5 474L129.75 466.5zM127.2 469v3h4.6v-3zM132 474L139.5 474L135.75 466.5zM133.2 469v3h4.6v-3zM138 474L145.5 474L141.75 466.5zM139.2 469v3h4.6v-3zM144 476L151.5 476L147.75 468.5zM150 472L157.5 472L153.75 464.5zM151.2 467v3h4.6v-3zM155 471L162.5 471L158.75 463.5zM156.2 466v3h4.6v-3zM161 468L168.5 468L164.75 460.5zM167 471L174.5 471L170.75 463.5zM168.2 466v3h4.6v-3zM173 471L180.5 471L176.75 463.5zM174.2 466v3h4.6v-3zM179 471L186.5 471L182.75 463.5zM180.2 466v3h4.6v-3zM185 472L192.5 472L188.75 464.5zM186.2 467v3h4.6v-3zM191 472L198.5 472L194.75 464.5zM192.2 467v3h4.6v-3zM196 471L203.5 471L199.75 463.5zM197.2 466v3h4.6v-3zM202 472L209.5 472L205.75 464.5zM203.2 467v3h4.6v-3zM208 472L215.5 472L211.75 464.5zM209.2 467v3h4.6v-3zM214 472L221.5 472L217.75 464.5zM215.2 467v3h4.6v-3zM220 472L227.5 472L223.75 464.5zM221.2 467v3h4.6v-3zM226 472L233.5 472L229.75 464.5zM227.2 467v3h4.6v-3zM232 472L239.5 472L235.75 464.5zM233.2 467v3h4.6v-3zM237 472L244.5 472L240.75 464.5zM238.2 467v3h4.6v-3zM243 468L250.5 468L246.75 460.5zM244.2 463v3h4.6v-3zM249 468L256.5 468L252.75 460.5zM250.2 463v3h4.6v-3zM255 468L262.5 468L258.75 460.5zM256.2 463v3h4.6v-3zM261 468L268.5 468L264.75 460.5zM262.2 463v3h4.6v-3zM267 471L274.5 471L270.75 463.5zM268.2 466v3h4.6v-3zM273 472L280.5 472L276.75 464.5zM274.2 467v3h4.6v-3zM279 471L286.5 471L282.75 463.5zM280.2 466v3h4.6v-3zM284 467L291.5 467L287.75 459.5zM290 465L297.5 465L293.75 457.5zM296 467L303.5 467L299.75 459.5zM297.2 462v3h4.6v-3zM302 467L309.5 467L305.75 459.5zM303.2 462v3h4.6v-3zM308 468L315.5 468L311.75 460.5zM309.2 463v3h4.6v-3zM314 471L321.5 471L317.75 463.5zM315.2 466v3h4.6v-3zM320 471L327.5 471L323.75 463.5zM321.2 466v3h4.6v-3zM325 471L332.5 471L328.75 463.5zM326.2 466v3h4.6v-3zM331 467L338.5 467L334.75 459.5zM332.2 462v3h4.6v-3zM337 467L344.5 467L340.75 459.5zM338.2 462v3h4.6v-3zM343 467L350.5 467L346.75 459.5zM344.2 462v3h4.6v-3zM349 467L356.5 467L352.75 459.5zM350.2 462v3h4.6v-3zM355 468L362.5 468L358.75 460.5zM356.2 463v3h4.6v-3zM361 465L368.5 465L364.75 457.5zM362.2 460v3h4.6v-3zM366 465L373.5 465L369.75 457.5zM367.2 460v3h4.6v-3zM372 467L379.5 467L375.75 459.5zM373.2 462v3h4.6v-3zM378 467L385.5 467L381.75 459.5zM379.2 462v3h4.6v-3zM384 468L391.5 468L387.75 460.5zM385.2 463v3h4.6v-3zM390 468L397.5 468L393.75 460.5zM391.2 463v3h4.6v-3zM396 471L403.5 471L399.75 463.5zM397.2 466v3h4.6v-3zM402 471L409.5 471L405.75 463.5zM403.2 466v3h4.6v-3zM407 472L414.5 472L410.75 464.5zM408.2 467v3h4.6v-3zM413 472L420.5 472L416.75 464.5zM414.2 467v3h4.6v-3zM419 474L426.5 474L422.75 466.5zM420.2 469v3h4.6v-3zM425 474L432.5 474L428.75 466.5zM426.2 469v3h4.6v-3zM431 474L438.5 474L434.75 466.5zM432.2 469v3h4.6v-3zM437 476L444.5 476L440.75 468.5zM438.2 471v3h4.6v-3zM443 476L450.5 476L446.75 468.5zM444.2 471v3h4.6v-3zM449 478L456.5 478L452.75 470.5zM454 474L461.5 474L457.75 466.5zM460 472L467.5 472L463.75 464.5zM461.2 467v3h4.6v-3zM466 471L473.5 471L469.75 463.5zM467.2 466v3h4.6v-3zM472 467L479.5 467L475.75 459.5zM478 463L485.5 463L481.75 455.5zM484 461L491.5 461L487.75 453.5zM485.2 456v3h4.6v-3zM490 461L497.5 461L493.75 453.5zM491.2 456v3h4.6v-3zM495 457L502.5 457L498.75 449.5zM501 455L508.5 455L504.75 447.5zM507 452L514.5 452L510.75 444.5zM513 447L520.5 447L516.75 439.5zM519 449L526.5 449L522.75 441.5zM525 447L532.5 447L528.75 439.5zM531 445L538.5 445L534.75 437.5zM536 443L543.5 443L539.75 435.5zM542 441L549.5 441L545.75 433.5zM548 439L555.5 439L551.75 431.5zM554 437L561.5 437L557.75 429.5zM555.2 432v3h4.6v-3zM560 437L567.5 437L563.75 429.5zM561.2 432v3h4.6v-3zM566 437L573.5 437L569.75 429.5zM567.2 432v3h4.6v-3zM572 435L579.5 435L575.75 427.5zM573.2 430v3h4.6v-3zM577 435L584.5 435L580.75 427.5zM578.2 430v3h4.6v-3zM583 433L590.5 433L586.75 425.5zM589 435L596.5 435L592.75 427.5zM590.2 430v3h4.6v-3zM595 435L602.5 435L598.75 427.5zM596.2 430v3h4.6v-3zM601 435L608.5 435L604.75 427.5zM602.2 430v3h4.6v-3zM607 435L614.5 435L610.75 427.5zM608.2 430v3h4.6v-3zM613 437L620.5 437L616.75 429.5zM614.2 432v3h4.6v-3zM619 437L626.5 437L622.75 429.5zM620.2 432v3h4.6v-3zM624 437L631.5 437L627.75 429.5zM625.2 432v3h4.6v-3zM630 439L637.5 439L633.75 431.5zM631.2 434v3h4.6v-3zM636 439L643.5 439L639.75 431.5zM637.2 434v3h4.6v-3zM642 439L649.5 439L645.75 431.5zM643.2 434v3h4.6v-3zM648 439L655.5 439L651.75 431.5zM649.2 434v3h4.6v-3zM654 441L661.5 441L657.75 433.5zM660 443L667.5 443L663.75 435.5zM661.2 438v3h4.6v-3zM665 443L672.5 443L668.75 435.5zM666.2 438v3h4.6v-3zM671 445L678.5 445L674.75 437.5zM672.2 440v3h4.6v-3zM677 445L684.5 445L680.75 437.5zM678.2 440v3h4.6v-3zM683 445L690.5 445L686.75 437.5zM684.2 440v3h4.6v-3zM689 447L696.5 447L692.75 439.5zM695 441L702.5 441L698.75 433.5zM701 437L708.5 437L704.75 429.5zM706 433L713.5 433L709.75 425.5zM712 428L719.5 428L715.75 420.5zM718 424L725.5 424L721.75 416.5zM724 420L731.5 420L727.75 412.5zM730 416L737.5 416L733.75 408.5zM736 412L743.5 412L739.75 404.5zM742 408L749.5 408L745.75 400.5zM748 405L755.5 405L751.75 397.5zM753 402L760.5 402L756.75 394.5zM759 399L766.5 399L762.75 391.5zM765 396L772.5 396L768.75 388.5zM771 393L778.5 393L774.75 385.5zM777 387L784.5 387L780.75 379.5zM783 380L790.5 380L786.75 372.5zM789 373L796.5 373L792.75 365.5zM794 369L801.5 369L797.75 361.5zM800 365L807.5 365L803.75 357.5zM801.2 360v3h4.6v-3zM806 364L813.5 364L809.75 356.5zM807.2 359v3h4.6v-3zM812 359L819.5 359L815.75 351.5zM818 356L825.5 356L821.75 348.5zM824 352L831.5 352L827.75 344.5zM830 350L837.5 350L833.75 342.5zM835 345L842.5 345L838.75 337.5zM841 341L848.5 341L844.75 333.5zM847 334L854.5 334L850.75 326.5zM853 330L860.5 330L856.75 322.5zM859 325L866.5 325L862.75 317.5zM865 321L872.5 321L868.75 313.5zM871 317L878.5 317L874.75 309.5zM876 313L883.5 313L879.75 305.5zM882 309L889.5 309L885.75 301.5zM888 307L895.5 307L891.75 299.5zM894 305L901.5 305L897.75 297.5zM900 307L907.5 307L903.75 299.5zM906 309L913.5 309L909.75 301.5zM912 313L919.5 313L915.75 305.5zM918 317L925.5 317L921.75 309.5zM923 321L930.5 321L926.75 313.5zM929 325L936.5 325L932.75 317.5zM935 328L942.5 328L938.75 320.5zM941 331L948.5 331L944.75 323.5zM947 334L954.5 334L950.75 326.5zM953 338L960.5 338L956.75 330.5zM959 342L966.5 342L962.75 334.5z"/>
<path fill="#0000ff" d="M44 428L51 428L51 424.5L47.5 421L44 424.5zM50 434L57 434L57 430.5L53.5 427L50 430.5zM56 437L63 437L63 433.5L59.5 430L56 433.5zM62 441L69 441L69 437.5L65.5 434L62 437.5zM67 445L74 445L74 441.5L70.5 438L67 441.5zM73 449L80 449L80 445.5L76.5 442L73 445.5zM79 449L86 449L86 445.5L82.5 442L79 445.5zM85 457L92 457L92 453.5L88.5 450L85 453.5zM91 463L98 463L98 459.5L94.5 456L91 459.5zM97 467L104 467L104 463.5L100.5 460L97 463.5zM103 463L110 463L110 459.5L106.5 456L103 459.5zM108 472L115 472L115 468.5L111.5 465L108 468.5zM114 482L121 482L121 478.5L117.5 475L114 478.5zM120 494L127 494L127 490.5L123.5 487L120 490.5zM126 502L133 502L133 498.5L129.5 495L126 498.5zM132 496L139 496L139 492.5L135.5 489L132 492.5zM138 505L145 505L145 501.5L141.5 498L138 501.5zM144 502L151 502L151 498.5L147.5 495L144 498.5zM150 504L157 504L157 500.5L153.5 497L150 500.5zM155 494L162 494L162 490.5L158.5 487L155 490.5zM161 512L168 512L168 508.5L164.5 505L161 508.5zM167 523L174 523L174 519.5L170.5 516L167 519.5zM173 525L180 525L180 521.5L176.5 518L173 521.5zM179 527L186 527L186 523.5L182.5 520L179 523.5zM185 535L192 535L192 531.5L188.5 528L185 531.5zM191 531L198 531L198 527.5L194.5 524L191 527.5zM196 535L203 535L203 531.5L199.5 528L196 531.5zM202 535L209 535L209 531.5L205.5 528L202 531.5zM208 537L215 537L215 533.5L211.5 530L208 533.5zM214 531L221 531L221 527.5L217.5 524L214 527.5zM220 519L227 519L227 515.5L223.5 512L220 515.5zM226 499L233 499L233 495.5L229.5 492L226 495.5zM232 496L239 496L239 492.5L235.5 489L232 492.5zM237 499L244 499L244 495.5L240.5 492L237 495.5zM243 504L250 504L250 500.5L246.5 497L243 500.5zM249 509L256 509L256 505.5L252.5 502L249 505.5zM255 515L262 515L262 511.5L258.5 508L255 511.5zM261 519L268 519L268 515.5L264.5 512L261 515.5zM267 521L274 521L274 517.5L270.5 514L267 517.5zM273 515L280 515L280 511.5L276.5 508L273 511.5zM279 511L286 511L286 507.5L282.5 504L279 507.5zM284 508L291 508L291 504.5L287.5 501L284 504.5zM290 505L297 505L297 501.5L293.5 498L290 501.5zM296 509L303 509L303 505.5L299.5 502L296 505.5zM302 515L309 515L309 511.5L305.5 508L302 511.5zM308 521L315 521L315 517.5L311.5 514L308 517.5zM314 523L321 523L321 519.5L317.5 516L314 519.5zM320 531L327 531L327 527.5L323.5 524L320 527.5zM325 529L332 529L332 525.5L328.5 522L325 525.5zM331 529L338 529L338 525.5L334.5 522L331 525.5zM337 531L344 531L344 527.5L340.5 524L337 527.5zM343 535L350 535L350 531.5L346.5 528L343 531.5zM349 537L356 537L356 533.5L352.5 530L349 533.5zM355 537L362 537L362 533.5L358.5 530L355 533.5zM361 529L368 529L368 525.5L364.5 522L361 525.5zM366 527L373 527L373 523.5L369.5 520L366 523.5zM372 523L379 523L379 519.5L375.5 516L372 519.5zM378 508L385 508L385 504.5L381.5 501L378 504.5zM384 463L391 463L391 459.5L387.5 456L384 459.5zM390 453L397 453L397 449.5L393.5 446L390 449.5zM396 451L403 451L403 447.5L399.5 444L396 447.5zM402 439L409 439L409 435.5L405.5 432L402 435.5zM407 401L414 401L414 397.5L410.5 394L407 397.5zM413 408L420 408L420 404.5L416.5 401L413 404.5zM419 401L426 401L426 397.5L422.5 394L419 397.5zM425 380L432 380L432 376.5L428.5 373L425 376.5zM431 368L438 368L438 364.5L434.5 361L431 364.5zM437 368L444 368L444 364.5L440.5 361L437 364.5zM443 360L450 360L450 356.5L446.5 353L443 356.5zM449 347L456 347L456 343.5L452.5 340L449 343.5zM454 318L461 318L461 314.5L457.5 311L454 314.5zM460 302L467 302L467 298.5L463.5 295L460 298.5zM466 284L473 284L473 280.5L469.5 277L466 280.5zM472 262L479 262L479 258.5L475.5 255L472 258.5zM478 212L485 212L485 208.5L481.5 205L478 208.5zM484 216L491 216L491 212.5L487.5 209L484 212.5zM490 231L497 231L497 227.5L493.5 224L490 227.5zM495 189L502 189L502 185.5L498.5 182L495 185.5zM501 177L508 177L508 173.5L504.5 170L501 173.5zM507 191L514 191L514 187.5L510.5 184L507 187.5zM513 146L520 146L520 142.5L516.5 139L513 142.5zM519 150L526 150L526 146.5L522.5 143L519 146.5zM525 179L532 179L532 175.5L528.5 172L525 175.5zM531 150L538 150L538 146.5L534.5 143L531 146.5zM536 140L543 140L543 136.5L539.5 133L536 136.5zM542 126L549 126L549 122.5L545.5 119L542 122.5zM548 103L555 103L555 99.5L551.5 96L548 99.5zM554 113L561 113L561 109.5L557.5 106L554 109.5zM560 91L567 91L567 87.5L563.5 84L560 87.5zM566 101L573 101L573 97.5L569.5 94L566 97.5zM572 60L579 60L579 56.5L575.5 53L572 56.5zM577 95L584 95L584 91.5L580.5 88L577 91.5zM583 90L590 90L590 86.5L586.5 83L583 86.5zM589 82L596 82L596 78.5L592.5 75L589 78.5zM595 93L602 93L602 89.5L598.5 86L595 89.5zM601 91L608 91L608 87.5L604.5 84L601 87.5zM607 97L614 97L614 93.5L610.5 90L607 93.5zM613 103L620 103L620 99.5L616.5 96L613 99.5zM619 109L626 109L626 105.5L622.5 102L619 105.5zM624 102L631 102L631 98.5L627.5 95L624 98.5zM630 116L637 116L637 112.5L633.5 109L630 112.5zM636 114L643 114L643 110.5L639.5 107L636 110.5zM642 120L649 120L649 116.5L645.5 113L642 116.5zM648 98L655 98L655 94.5L651.5 91L648 94.5zM654 113L661 113L661 109.5L657.5 106L654 109.5zM660 116L667 116L667 112.5L663.5 109L660 112.5zM665 139L672 139L672 135.5L668.5 132L665 135.5zM671 152L678 152L678 148.5L674.5 145L671 148.5zM677 166L684 166L684 162.5L680.5 159L677 162.5zM683 180L690 180L690 176.5L686.5 173L683 176.5zM689 192L696 192L696 188.5L692.5 185L689 188.5zM695 199L702 199L702 195.5L698.5 192L695 195.5zM701 197L708 197L708 193.5L704.5 190L701 193.5zM706 203L713 203L713 199.5L709.5 196L706 199.5zM712 207L719 207L719 203.5L715.5 200L712 203.5zM718 207L725 207L725 203.5L721.5 200L718 203.5zM724 211L731 211L731 207.5L727.5 204L724 207.5zM730 215L737 215L737 211.5L733.5 208L730 211.5zM736 219L743 219L743 215.5L739.5 212L736 215.5zM742 223L749 223L749 219.5L745.5 216L742 219.5zM748 246L755 246L755 242.5L751.5 239L748 242.5zM753 256L760 256L760 252.5L756.5 249L753 252.5zM759 263L766 263L766 259.5L762.5 256L759 259.5zM765 269L772 269L772 265.5L768.5 262L765 265.5zM771 275L778 275L778 271.5L774.5 268L771 271.5zM777 281L784 281L784 277.5L780.5 274L777 277.5zM783 287L790 287L790 283.5L786.5 280L783 283.5zM789 291L796 291L796 287.5L792.5 284L789 287.5zM794 295L801 295L801 291.5L797.5 288L794 291.5zM800 297L807 297L807 293.5L803.5 290L800 293.5zM806 299L813 299L813 295.5L809.5 292L806 295.5zM812 301L819 301L819 297.5L815.5 294L812 297.5zM818 307L825 307L825 303.5L821.5 300L818 303.5zM824 313L831 313L831 309.5L827.5 306L824 309.5zM830 317L837 317L837 313.5L833.5 310L830 313.5zM835 321L842 321L842 317.5L838.5 314L835 317.5zM841 321L848 321L848 317.5L844.5 314L841 317.5zM847 326L854 326L854 322.5L850.5 319L847 322.5zM853 328L860 328L860 324.5L856.5 321L853 324.5zM859 331L866 331L866 327.5L862.5 324L859 327.5zM865 331L872 331L872 327.5L868.5 324L865 327.5zM871 334L878 334L878 330.5L874.5 327L871 330.5zM876 341L883 341L883 337.5L879.5 334L876 337.5zM882 342L889 342L889 338.5L885.5 335L882 338.5zM888 342L895 342L895 338.5L891.5 335L888 338.5zM894 340L901 340L901 336.5L897.5 333L894 336.5zM900 346L907 346L907 342.5L903.5 339L900 342.5zM906 354L913 354L913 350.5L909.5 347L906 350.5zM912 358L919 358L919 354.5L915.5 351L912 354.5zM918 359L925 359L925 355.5L921.5 352L918 355.5zM923 356L930 356L930 352.5L926.5 349L923 352.5zM929 356L936 356L936 352.5L932.5 349L929 352.5zM935 356L942 356L942 352.5L938.5 349L935 352.5zM941 358L948 358L948 354.5L944.5 351L941 354.5zM947 365L954 365L954 361.5L950.5 358L947 361.5zM953 371L960 371L960 367.5L956.5 364L953 367.5zM959 377L966 377L966 373.5L962.5 370L959 373.5z"/>
<path fill="#ff0000" d="M44 333L51.5 333L47.75 340.5zM50 333L57.5 333L53.75 340.5zM56 333L63.5 333L59.75 340.5zM62 333L69.5 333L65.75 340.5zM67 395L74.5 395L70.75 402.5zM73 395L80.5 395L76.75 402.5zM79 395L86.5 395L82.75 402.5zM85 395L92.5 395L88.75 402.5zM91 395L98.5 395L94.75 402.5zM97 333L104.5 333L100.75 340.5zM103 395L110.5 395L106.75 402.5zM108 395L115.5 395L111.75 402.5zM114 395L121.5 395L117.75 402.5zM120 395L127.5 395L123.75 402.5zM126 395L133.5 395L129.75 402.5zM132 395L139.5 395L135.75 402.5zM138 333L145.5 333L141.75 340.5zM144 333L151.5 333L147.75 340.5zM150 395L157.5 395L153.75 402.5zM155 395L162.5 395L158.75 402.5zM161 395L168.5 395L164.75 402.5zM167 395L174.5 395L170.75 402.5zM173 395L180.5 395L176.75 402.5zM179 395L186.5 395L182.75 402.5zM185 333L192.5 333L188.75 340.5zM191 395L198.5 395L194.75 402.5zM196 395L203.5 395L199.75 402.5zM202 395L209.5 395L205.75 402.5zM208 395L215.5 395L211.75 402.5zM214 395L221.5 395L217.75 402.5zM220 395L227.5 395L223.75 402.5zM226 333L233.5 333L229.75 340.5zM232 333L239.5 333L235.75 340.5zM237 395L244.5 395L240.75 402.5zM243 395L250.5 395L246.75 402.5zM249 395L256.5 395L252.75 402.5zM255 395L262.5 395L258.75 402.5zM261 395L268.5 395L264.75 402.5zM267 333L274.5 333L270.75 340.5zM273 333L280.5 333L276.75 340.5zM279 333L286.5 333L282.75 340.5zM284 395L291.5 395L287.75 402.5zM290 395L297.5 395L293.75 402.5zM296 395L303.5 395L299.75 402.5zM302 395L309.5 395L305.75 402.5zM308 395L315.5 395L311.75 402.5zM314 333L321.5 333L317.75 340.5zM320 333L327.5 333L323.75 340.5zM325 333L332.5 333L328.75 340.5zM331 333L338.5 333L334.75 340.5zM337 395L344.5 395L340.75 402.5zM343 333L350.5 333L346.75 340.5zM349 333L356.5 333L352.75 340.5zM355 333L362.5 333L358.75 340.5zM361 333L368.5 333L364.75 340.5zM366 333L373.5 333L369.75 340.5zM372 333L379.5 333L375.75 340.5zM378 333L385.5 333L381.75 340.5zM384 333L391.5 333L387.75 340.5zM390 333L397.5 333L393.75 340.5zM396 333L403.5 333L399.75 340.5zM402 333L409.5 333L405.75 340.5zM407 333L414.5 333L410.75 340.5zM413 333L420.5 333L416.75 340.5zM419 333L426.5 333L422.75 340.5zM425 333L432.5 333L428.75 340.5zM431 333L438.5 333L434.75 340.5zM437 333L444.5 333L440.75 340.5zM443 333L450.5 333L446.75 340.5zM449 333L456.5 333L452.75 340.5zM454 333L461.5 333L457.75 340.5zM460 333L467.5 333L463.75 340.5zM466 333L473.5 333L469.75 340.5zM472 333L479.5 333L475.75 340.5zM478 333L485.5 333L481.75 340.5zM484 333L491.5 333L487.75 340.5zM490 333L497.5 333L493.75 340.5zM495 333L502.5 333L498.75 340.5zM501 333L508.5 333L504.75 340.5zM507 333L514.5 333L510.75 340.5zM513 333L520.5 333L516.75 340.5zM519 333L526.5 333L522.75 340.5zM525 333L532.5 333L528.75 340.5zM531 333L538.5 333L534.75 340.5zM536 333L543.5 333L539.75 340.5zM542 333L549.5 333L545.75 340.5zM548 333L555.5 333L551.75 340.5zM554 333L561.5 333L557.75 340.5zM560 333L567.5 333L563.75 340.5zM566 333L573.5 333L569.75 340.5zM572 333L579.5 333L575.75 340.5zM577 333L584.5 333L580.75 340.5zM583 333L590.5 333L586.75 340.5zM589 333L596.5 333L592.75 340.5zM595 333L602.5 333L598.75 340.5zM601 333L608.5 333L604.75 340.5zM607 333L614.5 333L610.75 340.5zM613 333L620.5 333L616.75 340.5zM619 333L626.5 333L622.75 340.5zM624 333L631.5 333L627.75 340.5zM630 333L637.5 333L633.75 340.5zM636 333L643.5 333L639.75 340.5zM642 333L649.5 333L645.75 340.5zM648 333L655.5 333L651.75 340.5zM654 333L661.5 333L657.75 340.5zM660 333L667.5 333L663.75 340.5zM665 333L672.5 333L668.75 340.5zM671 333L678.5 333L674.75 340.5zM677 333L684.5 333L680.75 340.5zM683 333L690.5 333L686.75 340.5zM689 333L696.5 333L692.75 340.5zM695 333L702.5 333L698.75 340.5zM701 333L708.5 333L704.75 340.5zM706 333L713.5 333L709.75 340.5zM712 333L719.5 333L715.75 340.5zM718 333L725.5 333L721.75 340.5zM724 333L731.5 333L727.75 340.5zM730 333L737.5 333L733.75 340.5zM736 333L743.5 333L739.75 340.5zM742 333L749.5 333L745.75 340.5zM748 333L755.5 333L751.75 340.5zM753 333L760.5 333L756.75 340.5zM759 333L766.5 333L762.75 340.5zM765 333L772.5 333L768.75 340.5zM771 333L778.5 333L774.75 340.5zM777 333L784.5 333L780.75 340.5zM783 333L790.5 333L786.75 340.5zM789 333L796.5 333L792.75 340.5zM794 333L801.5 333L797.75 340.5zM800 333L807.5 333L803.75 340.5zM806 333L813.5 333L809.75 340.5zM812 333L819.5 333L815.75 340.5zM818 333L825.5 333L821.75 340.5zM824 333L831.5 333L827.75 340.5zM830 333L837.5 333L833.75 340.5zM835 333L842.5 333L838.75 340.5zM841 333L848.5 333L844.75 340.5zM847 333L854.5 333L850.75 340.5zM853 333L860.5 333L856.75 340.5zM859 333L866.5 333L862.75 340.5zM865 333L872.5 333L868.75 340.5zM871 333L878.5 333L874.75 340.5zM876 333L883.5 333L879.75 340.5zM882 395L889.5 395L885.75 402.5zM888 395L895.5 395L891.75 402.5zM894 395L901.5 395L897.75 402.5zM900 395L907.5 395L903.75 402.5zM906 395L913.5 395L909.75 402.5zM912 395L919.5 395L915.75 402.5zM918 395L925.5 395L921.75 402.5zM923 395L930.5 395L926.75 402.5zM929 395L936.5 395L932.75 402.5zM935 395L942.5 395L938.75 402.5zM941 395L948.5 395L944.75 402.5zM947 395L954.5 395L950.75 402.5zM953 395L960.5 395L956.75 402.5zM959 395L966.5 395L962.75 402.5z"/>
</g>
<g stroke="#000" stroke-width="1" shape-rendering="crispEdges">
<line x1="47.5" y1="25" x2="47.5" y2="560"/>
<line x1="985.5" y1="25" x2="985.5" y2="560"/>
</g>
<g shape-rendering="crispEdges">
<rect x="710.5" y="20.5" width="78" height="98" fill="#fff" stroke="#000" stroke-width="1"/>
<rect x="776.5" y="27.5" width="6" height="15" fill="#87ceeb" stroke="#000" stroke-width="1"/>
<rect x="776.5" y="44.5" width="6" height="15" fill="#00ff00" stroke="#000" stroke-width="1"/>
<rect x="776.5" y="61.5" width="6" height="15" fill="#ffa500" stroke="#000" stroke-width="1"/>
<rect x="776.5" y="78.5" width="6" height="15" fill="#0000ff" stroke="#000" stroke-width="1"/>
<rect x="776.5" y="95.5" width="6" height="15" fill="#ff0000" stroke="#000" stroke-width="1"/>
</g>
<g class="lg">
<text x="769.6" y="40" text-anchor="end">Lounge-20</text>
<text x="769.6" y="57" text-anchor="end">Hall-20</text>
<text x="769.6" y="74" text-anchor="end">Dining-20</text>
<text x="769.6" y="91" text-anchor="end">Outside-5</text>
<text x="769.6" y="108" text-anchor="end">Heat</text>
</g>
</svg>
</body></html>
